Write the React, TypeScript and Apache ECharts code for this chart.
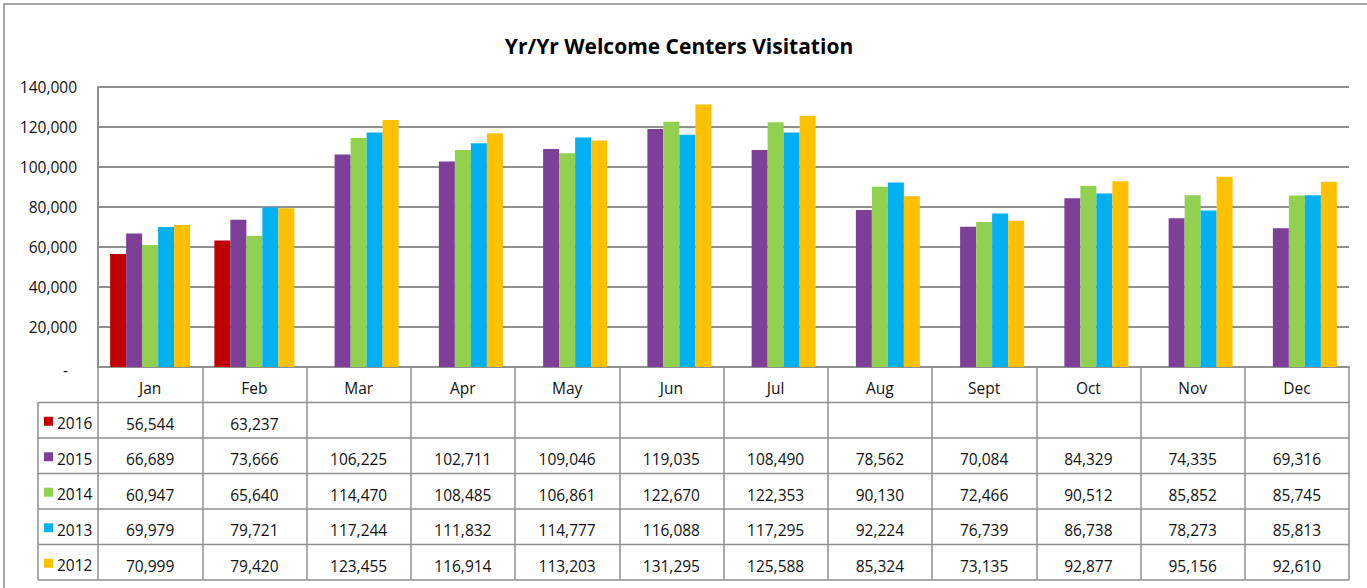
import React, { useEffect, useRef } from "react";
import * as echarts from "echarts";

const title = "Yr/Yr Welcome Centers Visitation";
const months = ["Jan", "Feb", "Mar", "Apr", "May", "Jun", "Jul", "Aug", "Sept", "Oct", "Nov", "Dec"];
const seriesNames = ["2016", "2015", "2014", "2013", "2012"];
const seriesColors = ["#C00000", "#7E3F98", "#92D050", "#00B0F0", "#FFC000"];
const values2016 = [56544, 63237, null, null, null, null, null, null, null, null, null, null];
const values2015 = [66689, 73666, 106225, 102711, 109046, 119035, 108490, 78562, 70084, 84329, 74335, 69316];
const values2014 = [60947, 65640, 114470, 108485, 106861, 122670, 122353, 90130, 72466, 90512, 85852, 85745];
const values2013 = [69979, 79721, 117244, 111832, 114777, 116088, 117295, 92224, 76739, 86738, 78273, 85813];
const values2012 = [70999, 79420, 123455, 116914, 113203, 131295, 125588, 85324, 73135, 92877, 95156, 92610];
const allValues = [values2016, values2015, values2014, values2013, values2012];
const yMin = 0;
const yMax = 140000;
const yInterval = 20000;

const W = 1367;
const H = 588;
const GRID_LEFT = 98;
const GRID_TOP = 87;
const GRID_RIGHT_X = 1349;
const GRID_BOTTOM_Y = 367;
const ROW_H = (580 - GRID_BOTTOM_Y) / 6;
const TABLE_LEFT = 38;
const FONT = "'Open Sans', 'Noto Sans', sans-serif";
const FS = 15.5;
const LINE = "#8f8f8f";

const fmt = (v: number | null) => (v == null ? "" : v.toLocaleString("en-US"));

export default function App() {
  const ref = useRef<HTMLDivElement>(null);
  useEffect(() => {
    if (!ref.current) return;
    const chart = echarts.init(ref.current, undefined, { renderer: "svg" });

    const labelMargin = ROW_H / 2 + 3.5;
    const valueAxes = allValues.map((vals, k) => ({
      type: "category",
      gridIndex: 0,
      position: "bottom",
      offset: ROW_H * (k + 1),
      data: vals.map(fmt),
      axisLine: { show: false },
      axisTick: { show: false },
      splitLine: { show: false },
      axisLabel: {
        interval: 0,
        margin: labelMargin,
        verticalAlign: "middle",
        fontFamily: FONT,
        fontSize: FS,
        color: "#111",
      },
    }));

    const graphics: any[] = [
      {
        type: "rect",
        shape: { x: 4, y: 4, width: W + 20, height: H + 20 },
        style: { fill: "none", stroke: "#8a8a8a", lineWidth: 1.5 },
        silent: true,
      },
    ];
    for (let k = 1; k <= 6; k++) {
      const y = GRID_BOTTOM_Y + ROW_H * k;
      graphics.push({
        type: "line",
        shape: { x1: TABLE_LEFT, y1: y, x2: GRID_RIGHT_X, y2: y },
        style: { stroke: LINE, lineWidth: 1.5 },
        silent: true,
      });
    }
    graphics.push({
      type: "line",
      shape: { x1: TABLE_LEFT, y1: GRID_BOTTOM_Y + ROW_H, x2: TABLE_LEFT, y2: GRID_BOTTOM_Y + ROW_H * 6 },
      style: { stroke: LINE, lineWidth: 1.5 },
      silent: true,
    });
    seriesNames.forEach((name, k) => {
      const cy = GRID_BOTTOM_Y + ROW_H * (k + 1) + ROW_H / 2;
      graphics.push({
        type: "rect",
        shape: { x: 44, y: cy - 3.5, width: 9, height: 9 },
        style: { fill: seriesColors[k] },
        silent: true,
      });
      graphics.push({
        type: "text",
        x: 57,
        y: cy + 3,
        style: {
          text: name,
          font: `${FS}px ${FONT}`,
          fill: "#111",
          verticalAlign: "middle",
        },
        silent: true,
      });
    });

    chart.setOption({
      animation: false,
      backgroundColor: "#ffffff",
      title: {
        text: title,
        left: 674,
        top: 30,
        textAlign: "center",
        textStyle: {
          fontFamily: FONT,
          fontWeight: "bold",
          fontSize: 21,
          color: "#000",
        },
      },
      grid: {
        left: GRID_LEFT,
        top: GRID_TOP,
        width: GRID_RIGHT_X - GRID_LEFT,
        height: GRID_BOTTOM_Y - GRID_TOP,
        containLabel: false,
      },
      xAxis: [
        {
          type: "category",
          data: months,
          gridIndex: 0,
          position: "bottom",
          axisLine: { show: true, lineStyle: { color: LINE, width: 2 } },
          axisTick: { show: true, length: ROW_H * 6, lineStyle: { color: LINE, width: 1.5 } },
          axisLabel: {
            interval: 0,
            margin: labelMargin,
            verticalAlign: "middle",
            fontFamily: FONT,
            fontSize: FS,
            color: "#111",
          },
        },
        ...valueAxes,
      ],
      yAxis: {
        type: "value",
        min: yMin,
        max: yMax,
        interval: yInterval,
        axisLine: { show: true, lineStyle: { color: LINE, width: 2 } },
        axisTick: { show: false },
        splitLine: { show: true, lineStyle: { color: LINE, width: 2 } },
        axisLabel: {
          margin: 21,
          fontFamily: FONT,
          fontSize: FS,
          color: "#111",
          formatter: (v: number) => (v === 0 ? "{d|-}" : v.toLocaleString("en-US")),
          rich: { d: { fontFamily: FONT, fontSize: FS, color: "#111", padding: [6, 9, 0, 0] } },
        },
      },
      series: seriesNames.map((name, k) => ({
        name,
        type: "bar",
        xAxisIndex: 0,
        data: allValues[k],
        barWidth: 16,
        barGap: "0%",
        itemStyle: { color: seriesColors[k] },
      })),
      graphic: graphics,
    });
    return () => chart.dispose();
  }, []);
  return (
    <div
      ref={ref}
      style={{ position: "fixed", left: 0, top: 0, width: W, height: H, background: "#fff" }}
    />
  );
}
